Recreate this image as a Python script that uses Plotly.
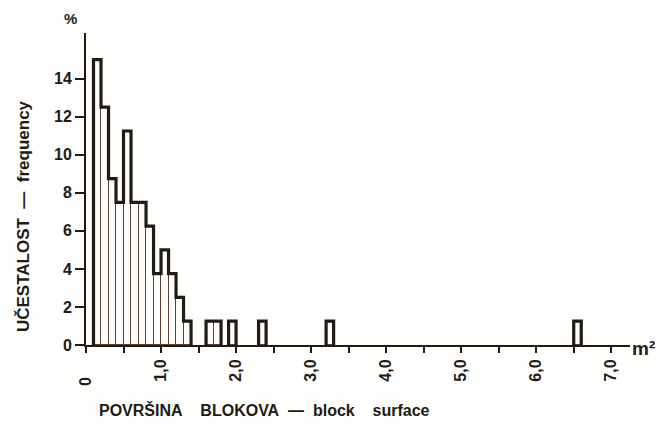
import numpy as np
import plotly.graph_objects as go

# ---- data ----
bin_width = 0.1
bin_left = [0.1, 0.2, 0.3, 0.4, 0.5, 0.6, 0.7, 0.8, 0.9, 1.0, 1.1, 1.2, 1.3,
            1.6, 1.7, 1.9, 2.3, 3.2, 6.5]
percent = [15, 12.5, 8.75, 7.5, 11.25, 7.5, 7.5, 6.25, 3.75, 5, 3.75, 2.5, 1.25,
           1.25, 1.25, 1.25, 1.25, 1.25, 1.25]
x_tick_vals = [0, 0.5, 1.0, 1.5, 2.0, 2.5, 3.0, 3.5, 4.0, 4.5, 5.0, 5.5, 6.0, 6.5, 7.0]
x_tick_text = ["0", "", "1,0", "", "2,0", "", "3,0", "", "4,0", "", "5,0", "", "6,0", "", "7,0"]
y_tick_vals = [0, 2, 4, 6, 8, 10, 12, 14]

INK = "#221a15"
HATCH = "#5b4030"
FONT = "Liberation Sans"

centers = [round(l + bin_width / 2, 3) for l in bin_left]

# thick outline: one step path per contiguous group of bins
xs, ys = [], []
i = 0
n = len(bin_left)
while i < n:
    j = i
    while j + 1 < n and abs(bin_left[j + 1] - bin_left[j] - bin_width) < 1e-6:
        j += 1
    xs.append(bin_left[i]); ys.append(0)
    for k in range(i, j + 1):
        xs.append(bin_left[k]); ys.append(percent[k])
    xs.append(round(bin_left[j] + bin_width, 3)); ys.append(0)
    xs.append(None); ys.append(None)
    i = j + 1

fig = go.Figure()
fig.add_trace(go.Bar(
    x=centers, y=percent, width=bin_width,
    marker=dict(color="rgba(255,255,255,0)", line=dict(color=HATCH, width=1)),
    hoverinfo="skip", showlegend=False,
))
fig.add_trace(go.Scatter(
    x=xs, y=ys, mode="lines", line=dict(shape="hv", color=INK, width=3.2),
    connectgaps=False, hoverinfo="skip", showlegend=False,
))

pad = "\u00a0"
ticktext = [t + pad * 4 if t == "0" else t for t in x_tick_text]

fig.update_layout(
    width=668, height=428,
    margin=dict(l=86, r=38, t=33, b=83),
    paper_bgcolor="#fefefc", plot_bgcolor="#fefefc",
    bargap=0,
    font=dict(family=FONT, color=INK),
    xaxis=dict(
        range=[0, 7.25], showgrid=False, zeroline=False,
        showline=True, linecolor=INK, linewidth=2,
        ticks="outside", ticklen=6, tickwidth=1.5, tickcolor=INK,
        tickvals=x_tick_vals, ticktext=ticktext, tickangle=-90,
        tickfont=dict(family=FONT, size=16, color=INK, weight="bold"),
    ),
    yaxis=dict(
        range=[0, 16.4], showgrid=False, zeroline=False,
        showline=True, linecolor=INK, linewidth=2,
        ticks="outside", ticklen=9, tickwidth=1.5, tickcolor=INK,
        tickvals=y_tick_vals,
        tickfont=dict(family=FONT, size=16, color=INK, weight="bold"),
    ),
    annotations=[
        dict(text="%", xref="paper", yref="paper", x=-0.029, y=1.048,
             xanchor="center", yanchor="middle",
             showarrow=False, font=dict(family=FONT, size=15, color=INK, weight="bold")),
        dict(text="m²", xref="paper", yref="paper", x=1.0, y=-0.01,
             xanchor="left", yanchor="middle",
             showarrow=False, font=dict(family=FONT, size=19, color=INK, weight="bold")),
        dict(text="UČESTALOST" + pad * 2 + "—" + pad * 2 + "frequency",
             xref="paper", yref="paper",
             x=-0.116, y=0.413, xanchor="center", yanchor="middle",
             textangle=-90, showarrow=False,
             font=dict(family=FONT, size=17, color=INK, weight="bold")),
        dict(text="POVRŠINA" + pad * 4 + "BLOKOVA" + pad * 2 + "—" + pad * 2 + "block" + pad * 4 + "surface",
             xref="paper", yref="paper", x=0.328, y=-0.208,
             xanchor="center", yanchor="middle", showarrow=False,
             font=dict(family=FONT, size=16, color=INK, weight="bold")),
    ],
)

fig.write_html("out.html")
